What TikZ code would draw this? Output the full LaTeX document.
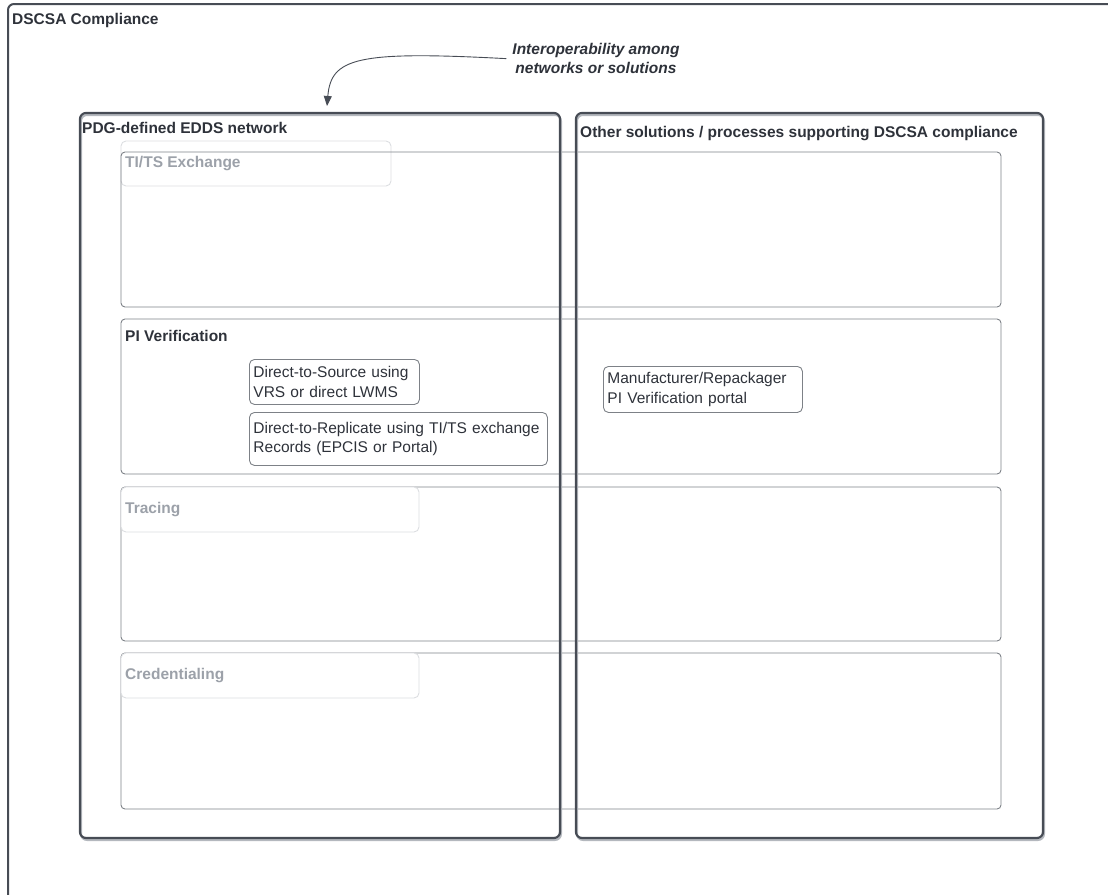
\documentclass[tikz,border=0pt]{standalone}
\usepackage{fontspec}
\setmainfont{Liberation Sans}
\usetikzlibrary{arrows.meta, positioning}
\definecolor{bordo}{HTML}{474C55}
\definecolor{ombra}{HTML}{B4B8BE}
\definecolor{riga}{HTML}{7D8187}
\definecolor{chiaro}{HTML}{DCDEE1}
\definecolor{testo}{HTML}{2E323A}
\definecolor{grigio}{HTML}{9CA1A9}
\newcommand{\corpo}{\fontsize{15.5}{19.5}\selectfont}

\begin{document}
\begin{tikzpicture}[x=1pt, y=-1pt, line join=round,
    cornice/.style={draw=bordo, line width=2pt, rounded corners=6pt},
    pannello/.style={draw=bordo, line width=2.2pt, rounded corners=6pt},
    riquadro/.style={draw=riga, line width=0.9pt, rounded corners=4pt},
    etichetta/.style={draw=chiaro, line width=0.9pt, rounded corners=5pt},
    voce/.style={draw=riga, line width=0.9pt, rounded corners=5pt, anchor=north west, align=left, inner xsep=4pt, inner ysep=0pt, text=testo, font=\corpo},
    titolo/.style={anchor=base west, inner sep=0pt, text=testo, font=\corpo\bfseries},
    sbiadito/.style={titolo, text=grigio},
    freccia/.style={draw=bordo, line width=0.9pt, -{Triangle[length=10pt, width=8pt]}}]
    % Parametri
    \pgfmathsetmacro{\xa}{121}
    \pgfmathsetmacro{\xb}{1001}
    \useasboundingbox (0,0) rectangle (1108,894);
    % Cornice esterna
    \draw[cornice] (8,900) |- (1115,4);
    \node[titolo] (dscsa) at (12,24) {DSCSA Compliance};
    % Riga TI/TS
    \draw[etichetta] (\xa,141) rectangle (391,186);
    \draw[riquadro] (\xa,152) rectangle (\xb,307);
    \node[sbiadito] (tits) at (125,167) {TI/TS Exchange};
    % Riga PI
    \draw[riquadro] (\xa,319) rectangle (\xb,474);
    \node[titolo] (pi) at (125,341) {PI Verification};
    % Riga Tracing
    \draw[riquadro] (\xa,487) rectangle (\xb,641);
    \draw[etichetta, fill=white] (\xa,487) rectangle (419,532);
    \node[sbiadito] (tracing) at (125,513) {Tracing};
    % Riga Credentialing
    \draw[riquadro] (\xa,653) rectangle (\xb,809);
    \draw[etichetta, fill=white] (\xa,653) rectangle (419,698);
    \node[sbiadito] (cred) at (125,679) {Credentialing};
    % Pannelli
    \draw[ombra, line width=2pt, rounded corners=6pt] (81,115) rectangle (561,840);
    \draw[ombra, line width=2pt, rounded corners=6pt] (577,115) rectangle (1044,840);
    \draw[pannello] (80,113) rectangle (560,838);
    \draw[pannello] (576,113) rectangle (1043,838);
    \node[titolo] (pdg) at (82,133) {PDG-defined EDDS network};
    \node[titolo] (altre) at (580,137) {Other solutions / processes supporting DSCSA compliance};
    % Voci
    \node[voce, text width=162pt, minimum height=45pt] (dts) at (249,359) {Direct-to-Source using\\VRS or direct LWMS};
    \node[voce, text width=290pt, minimum height=53pt] (dtr) at (249,412) {Direct-to-Replicate using TI/TS exchange\\Records (EPCIS or Portal)};
    \node[voce, text width=191pt, minimum height=46pt] (portale) at (603,366) {Manufacturer/Repackager\\PI Verification portal};
    % Nota e freccia
    \node[anchor=north, inner sep=0pt, align=center, text=testo, font=\corpo\bfseries\itshape] (nota) at (596,43) {Interoperability among\\networks or solutions};
    \coordinate (punta) at (327,106);
    \draw[freccia] ([xshift=-6pt]nota.west) .. controls +(-150,-8) and +(4,-48) .. (punta);
\end{tikzpicture}
\end{document}
